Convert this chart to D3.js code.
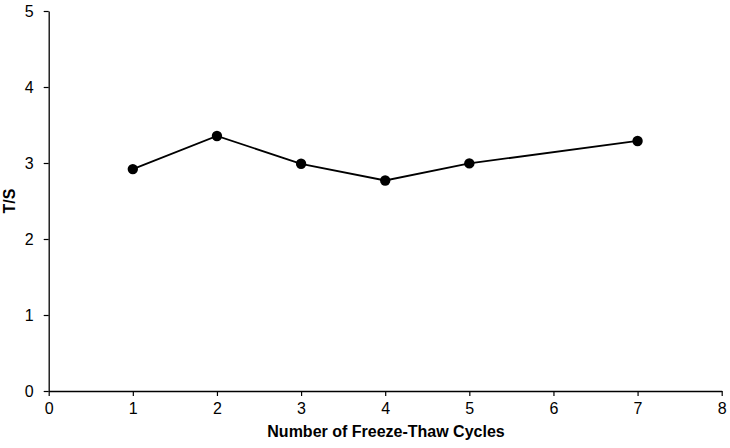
<!DOCTYPE html>
<html><head><meta charset="utf-8">
<script src="https://cdn.jsdelivr.net/npm/d3@7"></script>
<style>body{margin:0;background:#fff}svg{display:block}text{font-family:"Liberation Sans",Arial,sans-serif}</style>
</head><body><svg id="c" width="730" height="448"></svg>
<script>
const cycles = [1, 2, 3, 4, 5, 7];
const tsValues = [2.92, 3.355, 2.99, 2.77, 2.995, 3.29];
const xTicks = [0, 1, 2, 3, 4, 5, 6, 7, 8];
const yTicks = [0, 1, 2, 3, 4, 5];

const svg = d3.select("#c");
const m = {l: 48.7, r: 721.7, t: 11, b: 391};
const x = d3.scaleLinear().domain([0, 8]).range([m.l, m.r]);
const y = d3.scaleLinear().domain([0, 5]).range([m.b, m.t]);

const xa = svg.append("g").attr("transform", `translate(0,${m.b})`)
  .call(d3.axisBottom(x).tickValues(xTicks).tickFormat(d3.format("d")).tickSize(5).tickPadding(7).tickSizeOuter(0));
const ya = svg.append("g").attr("transform", `translate(${m.l},0)`)
  .call(d3.axisLeft(y).tickValues(yTicks).tickFormat(d3.format("d")).tickSize(5).tickPadding(10).tickSizeOuter(0));
[xa, ya].forEach(a => {
  a.select(".domain").attr("stroke", "#000").attr("stroke-width", 1.3);
  a.selectAll(".tick line").attr("stroke", "#000").attr("stroke-width", 1.2);
  a.selectAll(".tick text").attr("fill", "#000").style("font-size", "16px")
    .style("font-family", '"Liberation Sans",Arial,sans-serif');
});

const pts = cycles.map((c, i) => [c, tsValues[i]]);
svg.append("path").datum(pts)
  .attr("fill", "none").attr("stroke", "#000").attr("stroke-width", 1.8)
  .attr("d", d3.line().x(d => x(d[0])).y(d => y(d[1])));
svg.selectAll("circle.pt").data(pts).enter().append("circle")
  .attr("cx", d => x(d[0])).attr("cy", d => y(d[1])).attr("r", 5.2).attr("fill", "#000");

svg.append("text").attr("x", 386).attr("y", 437).attr("text-anchor", "middle")
  .style("font-size", "16px").style("font-weight", "bold").text("Number of Freeze-Thaw Cycles");
svg.append("text").attr("transform", "translate(15,201) rotate(-90)").attr("text-anchor", "middle")
  .style("font-size", "16px").style("font-weight", "bold").text("T/S");
</script></body></html>
